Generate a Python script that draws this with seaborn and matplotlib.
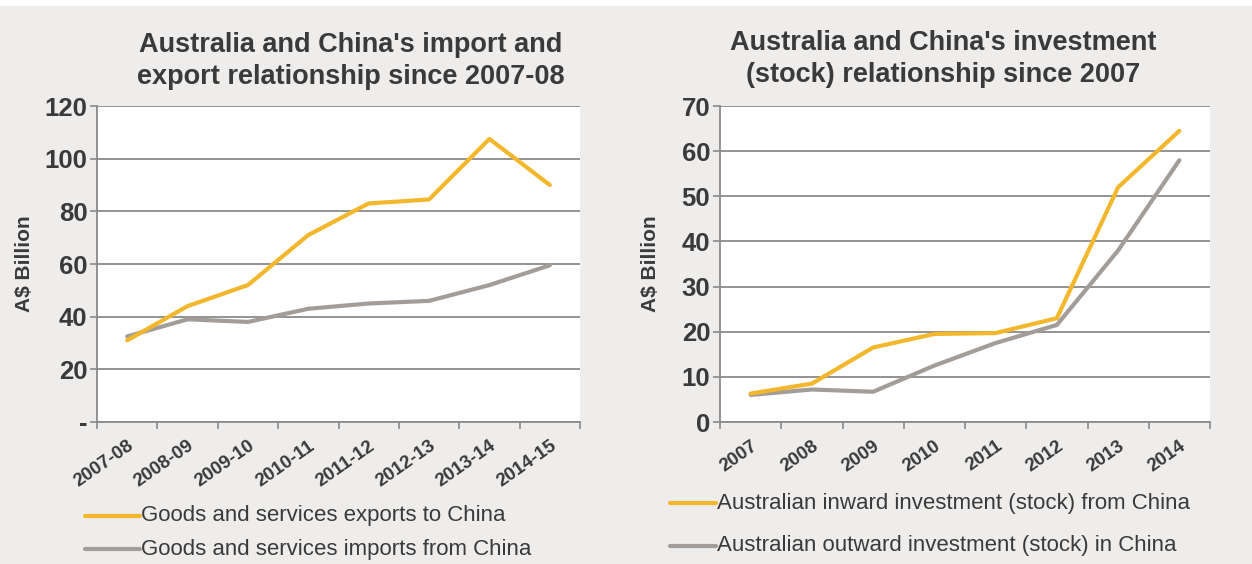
import matplotlib
matplotlib.use("Agg")
import matplotlib.pyplot as plt
import seaborn as sns
import pandas as pd
from matplotlib.ticker import FixedLocator, FuncFormatter

# Trade data (A$ billion, financial years)
trade_years = ["2007-08", "2008-09", "2009-10", "2010-11", "2011-12", "2012-13", "2013-14", "2014-15"]
exports_to_china = [31, 44, 52, 71, 83, 84.5, 107.5, 90]
imports_from_china = [32.5, 39, 38, 43, 45, 46, 52, 59.5]

# Investment stock data (A$ billion, calendar years)
invest_years = ["2007", "2008", "2009", "2010", "2011", "2012", "2013", "2014"]
inward_from_china = [6.3, 8.5, 16.5, 19.5, 19.7, 23, 52, 64.5]
outward_in_china = [6, 7.2, 6.7, 12.5, 17.5, 21.5, 38, 58]

trade_labels = ["Goods and services exports to China", "Goods and services imports from China"]
invest_labels = ["Australian inward investment (stock) from China",
                 "Australian outward investment (stock) in China"]

YELLOW = "#f2b72d"
GREY = "#a29d98"
BG = "#efedeb"
GRID = "#8a8a8a"
TEXT = "#3a3a3a"

sns.set_theme(style="white")
plt.rcParams["font.family"] = ["Liberation Sans", "DejaVu Sans"]

fig = plt.figure(figsize=(12.52, 5.64), dpi=100)
fig.patch.set_facecolor(BG)
# thin white strip along the top edge
fig.add_artist(plt.Rectangle((0, 0.99), 1, 0.01, transform=fig.transFigure,
                             facecolor="white", edgecolor="none", zorder=0))

W, H = 1252, 564
def axes_rect(x0, x1, ytop, ybot):
    return [x0 / W, 1 - ybot / H, (x1 - x0) / W, (ybot - ytop) / H]

ax1 = fig.add_axes(axes_rect(97, 580, 106, 422))
ax2 = fig.add_axes(axes_rect(720, 1210, 106, 422))

def draw(ax, cats, s1, s2, labels, ymax, ystep, zero_dash, ylabel_x):
    df = pd.DataFrame({
        "period": cats * 2,
        "value": s1 + s2,
        "series": [labels[0]] * len(cats) + [labels[1]] * len(cats),
    })
    # grey series first so the yellow one sits on top
    sns.lineplot(data=df, x="period", y="value", hue="series",
                 palette={labels[0]: YELLOW, labels[1]: GREY},
                 hue_order=[labels[1], labels[0]],
                 linewidth=3.0, ax=ax, legend=False, sort=False)
    for ln in ax.get_lines():
        ln.set_solid_capstyle("round")
    ax.set_facecolor("white")
    n = len(cats)
    ax.set_xlim(-0.5, n - 0.5)
    ax.set_ylim(0, ymax)
    ax.set_yticks(list(range(0, ymax + 1, ystep)))
    ax.yaxis.set_major_formatter(FuncFormatter(
        lambda v, p: "-" if (zero_dash and v == 0) else f"{int(v)}"))
    ax.grid(axis="y", color=GRID, linewidth=1.3)
    ax.set_axisbelow(True)
    for side in ["top", "right"]:
        ax.spines[side].set_visible(False)
    for side in ["left", "bottom"]:
        ax.spines[side].set_color(GRID)
        ax.spines[side].set_linewidth(1.3)
    ax.set_xticks(range(n))
    ax.set_xticklabels(cats, rotation=35, ha="right", rotation_mode="anchor",
                       fontsize=13.5, fontweight="bold", color=TEXT)
    ax.tick_params(axis="x", which="major", length=0, pad=11)
    ax.xaxis.set_minor_locator(FixedLocator([i - 0.5 for i in range(n + 1)]))
    ax.tick_params(axis="x", which="minor", length=5, width=1.2, color=GRID, bottom=True)
    ax.tick_params(axis="y", length=5, width=1.2, color=GRID, left=True,
                   labelsize=18.5, labelcolor=TEXT, pad=2)
    for t in ax.get_yticklabels():
        t.set_fontweight("bold")
    ax.set_xlabel("")
    ax.set_ylabel("A$ Billion", fontsize=15, fontweight="bold", color=TEXT)
    ax.yaxis.set_label_coords(ylabel_x, 0.5)

draw(ax1, trade_years, exports_to_china, imports_from_china, trade_labels, 120, 20, True, -0.13)
draw(ax2, invest_years, inward_from_china, outward_in_china, invest_labels, 70, 10, False, -0.122)

title_kw = dict(fontsize=19.5, fontweight="bold", color=TEXT, ha="center", va="center",
                linespacing=1.25)
fig.text(351 / W, 1 - 61 / H, "Australia and China's import and\nexport relationship since 2007-08", **title_kw)
fig.text(943 / W, 1 - 59 / H, "Australia and China's investment\n(stock) relationship since 2007", **title_kw)

def legend_rows(x_line0, x_line1, ys, labels):
    for y, lab, col in zip(ys, labels, [YELLOW, GREY]):
        fig.add_artist(plt.Line2D([x_line0 / W, x_line1 / W], [1 - y / H, 1 - y / H],
                                  transform=fig.transFigure, color=col, linewidth=3))
        fig.text(x_line1 / W + 1 / W, 1 - y / H, lab, fontsize=16, color=TEXT,
                 ha="left", va="center")

legend_rows(85, 140, [516, 549], trade_labels)
legend_rows(670, 716, [503, 546], invest_labels)

fig.savefig("out.png", dpi=100, facecolor=fig.get_facecolor())
